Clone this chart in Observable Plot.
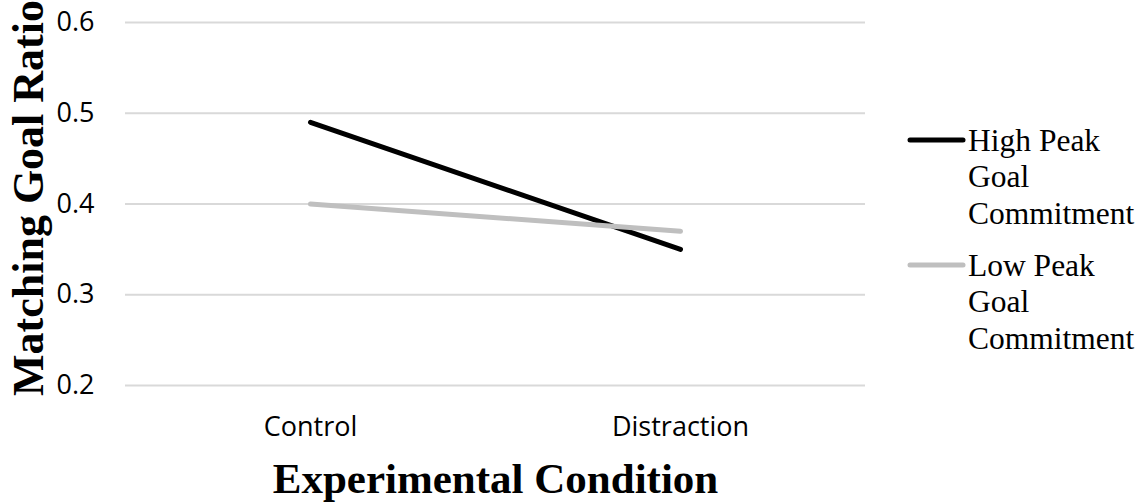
<!DOCTYPE html>
<html>
<head>
<meta charset="utf-8">
<script src="https://cdn.jsdelivr.net/npm/d3@7"></script>
<script src="https://cdn.jsdelivr.net/npm/@observablehq/plot@0.6"></script>
<style>
  html, body { margin: 0; padding: 0; background: #fff; }
  #chart { width: 1148px; height: 502px; }
</style>
</head>
<body>
<div id="chart"></div>
<script>
const conditions = ["Control", "Distraction"];
const seriesNames = ["High Peak Goal Commitment", "Low Peak Goal Commitment"];
const highPeak = [0.49, 0.35];
const lowPeak = [0.40, 0.37];
const yTicks = [0.2, 0.3, 0.4, 0.5, 0.6];
const legendLines = [["High Peak", "Goal", "Commitment"], ["Low Peak", "Goal", "Commitment"]];
const seriesColors = ["#000000", "#bfbfbf"];

const rows = [];
[highPeak, lowPeak].forEach((vals, si) => {
  vals.forEach((v, i) => rows.push({series: seriesNames[si], condition: conditions[i], value: v}));
});

const sans = "'Open Sans', sans-serif";
const serif = "'Liberation Serif', 'Times New Roman', serif";

const chart = Plot.plot({
  width: 1148,
  height: 502,
  marginLeft: 125,
  marginRight: 283,
  marginTop: 22,
  marginBottom: 117,
  style: {background: "#fff", fontFamily: sans},
  x: {type: "point", domain: conditions, padding: 0.5},
  y: {domain: [0.2, 0.6]},
  color: {domain: seriesNames, range: seriesColors},
  marks: [
    Plot.gridY(yTicks, {stroke: "#d9d9d9", strokeOpacity: 1, strokeWidth: 2}),
    Plot.axisY({ticks: yTicks, tickFormat: d3.format(".1f"), tickSize: 0, tickPadding: 31, fontSize: 27, fontFamily: sans, fill: "#000", label: null}),
    Plot.axisX({tickSize: 0, tickPadding: 31, fontSize: 27, fontFamily: sans, fill: "#000", label: null}),
    Plot.line(rows, {x: "condition", y: "value", z: "series", stroke: "series", strokeWidth: 5, strokeLinecap: "round"}),
    Plot.text(["Matching Goal Ratio"], {frameAnchor: "left", rotate: -90, dx: -97, dy: -6, fontSize: 44, fontWeight: "bold", fontFamily: serif, fill: "#000", lineAnchor: "middle", textAnchor: "middle"}),
    Plot.text(["Experimental Condition"], {frameAnchor: "bottom", dy: 94, fontSize: 43, fontWeight: "bold", fontFamily: serif, fill: "#000", lineAnchor: "middle", textAnchor: "middle"})
  ]
});

// Legend
const svg = d3.select(chart);
const legendTop = [140, 265];
seriesNames.forEach((name, i) => {
  const g = svg.append("g");
  g.append("line")
    .attr("x1", 910).attr("x2", 963)
    .attr("y1", legendTop[i]).attr("y2", legendTop[i])
    .attr("stroke", seriesColors[i]).attr("stroke-width", 5).attr("stroke-linecap", "round");
  const t = g.append("text")
    .attr("font-family", serif).attr("font-size", 31.5).attr("fill", "#000")
    .attr("text-anchor", "start");
  legendLines[i].forEach((ln, j) => {
    t.append("tspan").attr("x", 968).attr("y", legendTop[i] + 10.5 + j * 36.5).text(ln);
  });
});

document.getElementById("chart").appendChild(chart);
</script>
</body>
</html>
